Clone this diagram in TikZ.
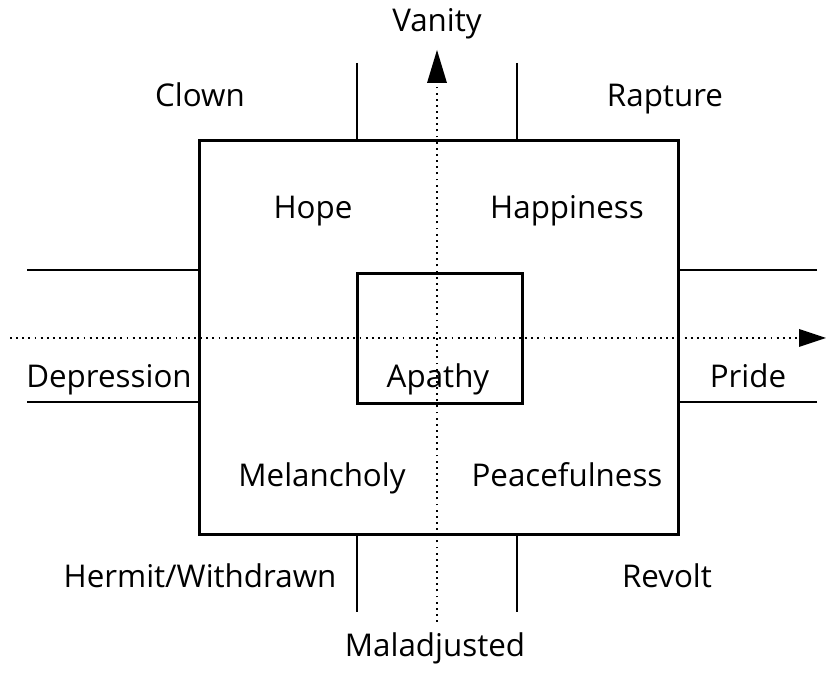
\documentclass[tikz,border=0pt]{standalone}
\usepackage{fontspec}
\setmainfont{Open Sans}
\usetikzlibrary{arrows.meta}

\begin{document}
\begin{tikzpicture}[
  x=0.75pt, y=-0.75pt,
  box/.style={rectangle, draw, line width=2.1pt, inner sep=0pt},
  wall/.style={line width=2.1pt},
  axis/.style={line width=1.7pt, dash pattern=on 1.4pt off 3.2pt},
  lbl/.style={font=\fontsize{23.5}{26}\selectfont, inner sep=0pt, anchor=base}
]
\useasboundingbox (0,0) rectangle (826,677);

% boxes
\node[box, minimum width=359pt, minimum height=296pt] (outer) at (439,337.5) {};
\node[box, minimum width=124pt, minimum height=97pt] (inner) at (440,338.5) {};

% axes
\coordinate (south) at (437,622);
\coordinate (north) at (437,50);
\coordinate (west) at (10,338);
\coordinate (east) at (826,338);
\draw[axis] (south) -- (437,84);
\fill (north) -- (447,83) -- (427,83) -- cycle;
\draw[axis] (west) -- (800,338);
\fill (east) -- (799,347) -- (799,329) -- cycle;

% walls round the outer box
\coordinate (tl) at (357,63);
\coordinate (tr) at (517,63);
\coordinate (bl) at (357,612);
\coordinate (br) at (517,612);
\coordinate (lt) at (27,270);
\coordinate (lb) at (27,402);
\coordinate (rt) at (817,270);
\coordinate (rb) at (817,402);
\draw[wall] (tl) -- (tl |- outer.north);
\draw[wall] (tr) -- (tr |- outer.north);
\draw[wall] (bl) -- (bl |- outer.south);
\draw[wall] (br) -- (br |- outer.south);
\draw[wall] (lt) -- (lt -| outer.west);
\draw[wall] (lb) -- (lb -| outer.west);
\draw[wall] (rt) -- (rt -| outer.east);
\draw[wall] (rb) -- (rb -| outer.east);

% labels
\node[lbl] (vanity) at (437,32) {Vanity};
\node[lbl] (clown) at (200,107) {Clown};
\node[lbl] (rapture) at (665,107) {Rapture};
\node[lbl] (hope) at (313,219) {Hope};
\node[lbl] (happiness) at (567,219) {Happiness};
\node[lbl] (depression) at (109,388) {Depression};
\node[lbl] (apathy) at (438,388) {Apathy};
\node[lbl] (pride) at (748,388) {Pride};
\node[lbl] (melancholy) at (322,487) {Melancholy};
\node[lbl] (peaceful) at (567,487) {Peacefulness};
\node[lbl] (hermit) at (200,588) {Hermit/Withdrawn};
\node[lbl] (revolt) at (667,588) {Revolt};
\node[lbl] (malad) at (435,657) {Maladjusted};
\end{tikzpicture}
\end{document}
